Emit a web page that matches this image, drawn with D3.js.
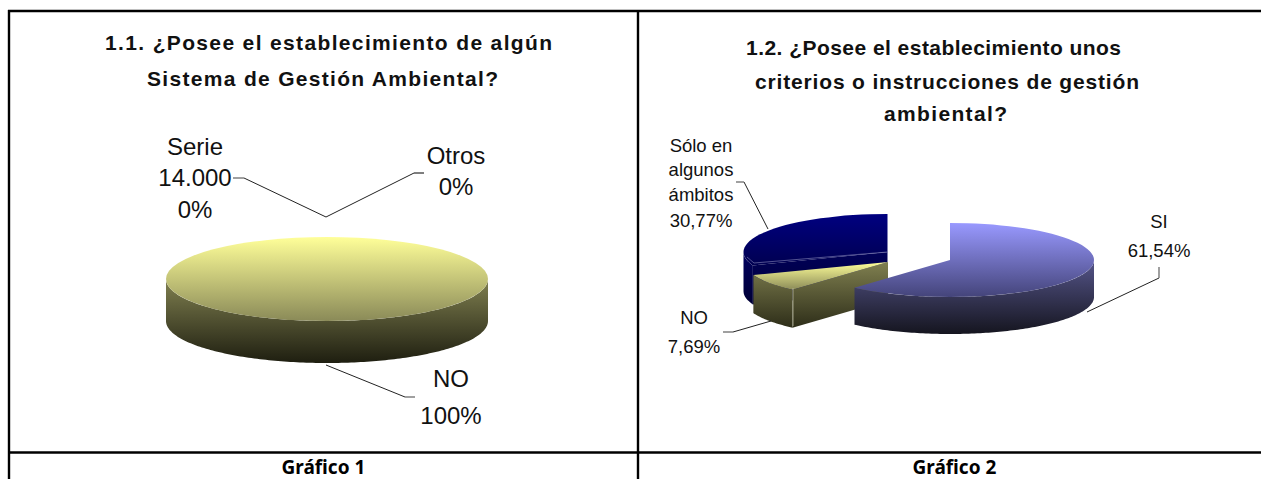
<!DOCTYPE html>
<html><head><meta charset="utf-8">
<script src="https://cdn.jsdelivr.net/npm/d3@7"></script>
<style>html,body{margin:0;padding:0;background:#fff;overflow:hidden}svg{display:block}</style>
</head><body><div id="c"></div>
<script>
// ---- data ----
const chart1Categories = ["Serie 14.000", "Otros", "NO"];
const chart1Values = [0, 0, 100];
const chart1Percents = ["0%", "0%", "100%"];
const chart1Title = ["1.1. ¿Posee el establecimiento de algún", "Sistema de Gestión Ambiental?"];
const chart2Categories = ["SI", "NO", "Sólo en algunos ámbitos"];
const chart2Values = [61.54, 7.69, 30.77];
const chart2Percents = ["61,54%", "7,69%", "30,77%"];
const chart2Title = ["1.2. ¿Posee el establecimiento unos", "criterios o instrucciones de gestión", "ambiental?"];
const captions = ["Gráfico 1", "Gráfico 2"];

const W = 1261, H = 479;
const svg = d3.select("#c").append("svg").attr("width", W).attr("height", H);
const defs = svg.append("defs");
let gid = 0;
function grad(y0, y1, c0, c1) {
  const id = "g" + (++gid);
  const g = defs.append("linearGradient").attr("id", id).attr("gradientUnits", "userSpaceOnUse")
    .attr("x1", 0).attr("x2", 0).attr("y1", y0).attr("y2", y1);
  g.append("stop").attr("offset", 0).attr("stop-color", c0);
  g.append("stop").attr("offset", 1).attr("stop-color", c1);
  return `url(#${id})`;
}
const pie = d3.pie().sort(null).value(d => d);
const line = d3.line();

// one slice of a tilted 3D pie
function slice(g, d, o) {
  const {cx, cy, rx, ry, depth, top, wall, cut, topSpan} = o;
  const px = a => cx + Math.sin(a) * rx, py = a => cy - Math.cos(a) * ry;
  if (cut) {
    g.append("path").attr("d", line([[cx, cy], [px(d.startAngle), py(d.startAngle)], [px(d.startAngle), py(d.startAngle) + depth], [cx, cy + depth]]) + "Z")
      .attr("fill", grad(cy, cy + depth + ry, cut[0], cut[1]));
  }
  // outer wall: front half only
  const a0 = Math.max(d.startAngle, Math.PI / 2), a1 = Math.min(d.endAngle, Math.PI * 1.5);
  if (a1 > a0) {
    const angles = d3.range(a0, a1, 0.02).concat([a1]);
    const area = d3.area().x(a => px(a)).y0(a => py(a)).y1(a => py(a) + depth);
    g.append("path").attr("d", area(angles)).attr("fill", grad(cy, cy + ry + depth, wall[0], wall[1]));
  }
  // top face: d3.arc on a circle, squashed
  const arc = d3.arc().innerRadius(0).outerRadius(rx);
  const k = rx / ry, span = topSpan || [-ry, ry];
  g.append("path").attr("d", arc(d))
    .attr("transform", `translate(${cx},${cy}) scale(1,${1 / k})`)
    .attr("fill", grad(span[0] * k, span[1] * k, top[0], top[1]));
}

function labels(lines, x, ys, size) {
  lines.forEach((t, i) => svg.append("text").attr("x", x).attr("y", ys[i]).attr("text-anchor", "middle")
    .attr("font-family", "Liberation Sans, Arial").attr("font-size", size).attr("fill", "#111").text(t));
}
function leader(pts, tick) {
  svg.append("path").attr("d", line(pts)).attr("fill", "none").attr("stroke", "#222").attr("stroke-width", 1);
  svg.append("path").attr("d", line(tick)).attr("fill", "none").attr("stroke", "#777").attr("stroke-width", 1.4);
}
function title(lines, spans, ys, size) {
  lines.forEach((t, i) => svg.append("text").attr("x", spans[i][0]).attr("y", ys[i])
    .attr("textLength", spans[i][1] - spans[i][0]).attr("lengthAdjust", "spacing")
    .attr("font-family", "Liberation Sans, Arial").attr("font-weight", "bold").attr("font-size", size)
    .attr("fill", "#111").text(t));
}

// ---- chart 1 ----
title(chart1Title, [[105, 552], [147, 498]], [50, 86], 21);
const pie1 = pie(chart1Values);
slice(svg.append("g"), pie1[2], {cx: 327, cy: 279, rx: 161, ry: 42, depth: 42,
  top: ["#ffff99", "#8a8a58"], wall: ["#808050", "#1e1e10"]});
labels(["Serie", "14.000", chart1Percents[0]], 195, [155, 186, 218], 24);
labels(["Otros", chart1Percents[1]], 456, [164, 195], 24);
labels(["NO", chart1Percents[2]], 451, [387, 424], 24);
leader([[244, 178], [326, 217], [414, 173]], [[233, 178], [244, 178]]);
leader([[414, 173], [424, 173]], [[414, 173], [424, 173]]);
leader([[326, 365], [405, 397]], [[405, 397], [415, 397]]);

// ---- chart 2 ----
title(chart2Title, [[746, 1121], [755, 1139], [884, 1007]], [55, 89, 121], 21);
const pie2 = pie(chart2Values);
const rx2 = 144;
slice(svg.append("g"), pie2[2], {cx: 887.5, cy: 252, rx: rx2, ry: 38, depth: 39, cut: ["#000058", "#000028"],
  top: ["#000080", "#00003a"], wall: ["#000060", "#000020"]});
svg.append("path").attr("d", line([[887.5, 252], [754, 263], [747, 257]])).attr("fill", "none")
  .attr("stroke", "#8888bb").attr("stroke-width", 0.6);
slice(svg.append("g"), pie2[1], {cx: 888, cy: 262, rx: rx2, ry: 37, depth: 38, cut: ["#808050", "#222211"],
  top: ["#ffff99", "#8a8a58"], wall: ["#808050", "#222211"], topSpan: [0, 28]});
svg.append("path").attr("d", line([[793, 288], [793, 326]])).attr("stroke", "#b9b9a0").attr("stroke-width", 0.8).attr("fill", "none");
slice(svg.append("g"), pie2[0], {cx: 950, cy: 260, rx: rx2, ry: 37, depth: 37,
  top: ["#9999ff", "#44447a"], wall: ["#55558a", "#15151f"]});
labels(["SI", chart2Percents[0]], 1159, [228, 257], 18.5);
labels(["NO", chart2Percents[1]], 694, [324, 353], 18.5);
labels(["Sólo en", "algunos", "ámbitos", chart2Percents[2]], 701, [152, 176, 201, 227], 18.5);
leader([[744, 182], [768, 229]], [[736, 182], [744, 182]]);
leader([[1159, 278], [1087, 312]], [[1159, 267], [1159, 278]]);
leader([[733, 332], [771, 321]], [[723, 332], [733, 332]]);

// ---- table rules & captions ----
[[[8, 11], [W, 11]], [[8, 452.5], [W, 452.5]], [[9, 10], [9, H]], [[638, 10], [638, H]]].forEach(r =>
  svg.append("path").attr("d", line(r)).attr("stroke", "#000").attr("stroke-width", 2.4));
[323.5, 954.5].forEach((x, i) => svg.append("text").attr("x", x).attr("y", 473.5).attr("text-anchor", "middle")
  .attr("font-family", "Noto Sans").attr("font-weight", "bold").attr("font-size", 19).attr("fill", "#000").text(captions[i]));
</script></body></html>
